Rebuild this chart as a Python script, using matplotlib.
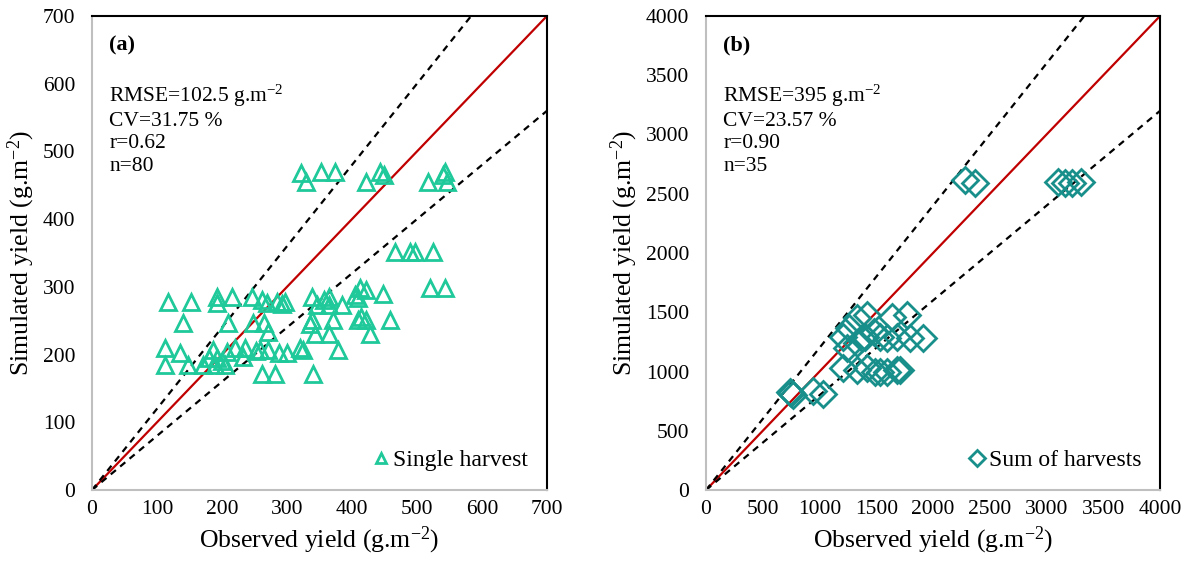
import numpy as np
import matplotlib
matplotlib.use("Agg")
import matplotlib.pyplot as plt

# === Data ===
single_obs = [322, 330, 353, 374, 421, 443, 449, 517, 543, 546, 540,
              466, 490, 497, 525, 520, 543, 412, 422, 410, 448, 404,
              338, 364, 346, 364, 384, 357, 338, 371, 410, 422, 458, 414, 335,
              343, 364, 428, 325, 379, 340,
              117, 153, 192, 192, 215, 246, 269, 284, 297, 262, 292,
              140, 210, 248, 264, 271,
              112, 135, 112, 148, 171, 186, 192, 189, 207, 205, 220, 235, 233,
              258, 271, 287, 300, 261, 282, 320, 200, 252, 180]
single_sim = [468, 455, 470, 470, 455, 470, 465, 455, 470, 455, 465,
              352, 352, 352, 352, 298, 298, 298, 295, 283, 290, 288,
              285, 285, 273, 273, 273, 280, 251, 251, 251, 251, 251, 255, 245,
              231, 231, 231, 207, 207, 172,
              278, 278, 285, 276, 285, 285, 276, 278, 278, 280, 275,
              246, 246, 246, 246, 234,
              209, 202, 185, 185, 185, 207, 195, 185, 204, 185, 209, 209, 197,
              207, 207, 202, 202, 172, 172, 209, 190, 205, 195]

sum_obs = [740, 765, 750, 945, 1030,
           1210, 1328, 1416, 1489, 1533, 1592, 1680, 1709,
           1210, 1240, 1328, 1372, 1401, 1533, 1592, 1680, 1797, 1915, 1260, 1480,
           1328, 1416, 1636, 1768,
           2282, 2370, 3104, 3163, 3222, 3300]
sum_sim = [830, 805, 815, 835, 810,
           1027, 1013, 1027, 998, 998, 1000, 1013, 1013,
           1294, 1196, 1238, 1280, 1294, 1294, 1280, 1294, 1280, 1280, 1370, 1330,
           1449, 1477, 1462, 1477,
           2616, 2588, 2602, 2588, 2588, 2602]

stats_a = ["RMSE=102.5 g.m$^{-2}$", "CV=31.75 %", "r=0.62", "n=80"]
stats_b = ["RMSE=395 g.m$^{-2}$", "CV=23.57 %", "r=0.90", "n=35"]

# === Style ===
plt.rcParams['font.family'] = ['Liberation Serif', 'DejaVu Serif']
plt.rcParams['mathtext.fontset'] = 'custom'
plt.rcParams['mathtext.rm'] = 'Liberation Serif'
plt.rcParams['mathtext.it'] = 'Liberation Serif:italic'
plt.rcParams['mathtext.bf'] = 'Liberation Serif:bold'

GREEN = '#1fc99a'
TEAL = '#198f8b'
RED = '#c00000'

fig = plt.figure(figsize=(11.87, 5.69), dpi=100)
ax_a = fig.add_axes([0.0775, 0.1388, 0.3833, 0.8331])
ax_b = fig.add_axes([0.5948, 0.1388, 0.3825, 0.8331])


def style_panel(ax, vmax, step, label, stats, x_obs, y_sim, marker, color, ms, leg):
    line = np.array([0, vmax])
    ax.plot(line, line, color=RED, lw=1.6, zorder=2)
    ax.plot(line / 1.2, line, color='black', lw=1.6, ls=(0, (3, 2.5)), zorder=2)
    ax.plot(line, line * 0.8, color='black', lw=1.6, ls=(0, (3, 2.5)), zorder=2)
    ax.plot(x_obs, y_sim, ls='none', marker=marker, ms=ms, mfc='none',
            mec=color, mew=2, label=leg, zorder=3)
    ax.set_xlim(0, vmax)
    ax.set_ylim(0, vmax)
    ticks = np.arange(0, vmax + 1, step)
    ax.set_xticks(ticks)
    ax.set_yticks(ticks)
    ax.tick_params(length=0, labelsize=15.5)
    ax.tick_params(axis='x', pad=7)
    ax.tick_params(axis='y', pad=12)
    for s in ['left', 'bottom']:
        ax.spines[s].set_color('#bfbfbf')
        ax.spines[s].set_linewidth(1.5)
    for s in ['top', 'right']:
        ax.spines[s].set_color('black')
        ax.spines[s].set_linewidth(1.5)
    ax.set_xlabel("Observed yield (g.m$^{-2}$)", fontsize=18.5, labelpad=4)
    ax.set_ylabel("Simulated yield (g.m$^{-2}$)", fontsize=18.5, labelpad=4)
    ax.text(0.038, 0.937, label, transform=ax.transAxes, fontsize=16,
            fontweight='bold', va='center')
    ax.text(0.038, 0.86, "\n".join(stats), transform=ax.transAxes,
            fontsize=15.5, va='top', linespacing=1.24)
    ax.legend(loc='lower right', frameon=False, fontsize=17, handlelength=0.6,
              handletextpad=0.2, markerscale=0.65, borderaxespad=0.4)


style_panel(ax_a, 700, 100, "(a)", stats_a, single_obs, single_sim,
            '^', GREEN, 12, "Single harvest")
style_panel(ax_b, 4000, 500, "(b)", stats_b, sum_obs, sum_sim,
            'D', TEAL, 13, "Sum of harvests")

fig.savefig("out.png", dpi=100)
